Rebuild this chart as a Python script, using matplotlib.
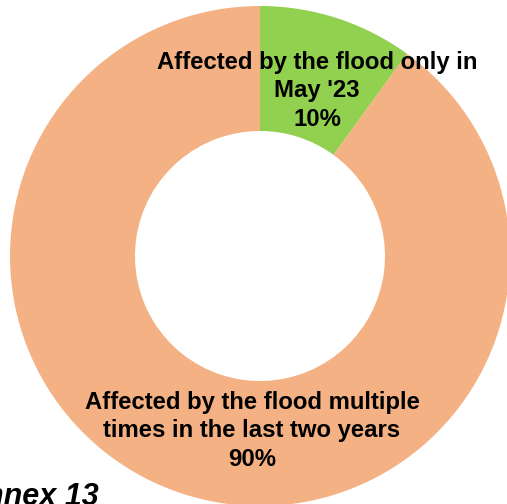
import matplotlib.pyplot as plt

labels = ["Affected by the flood only in\nMay '23",
          "Affected by the flood multiple\ntimes in the last two years"]
shares = [10, 90]
colors = ['#92D050', '#F4B183']

plt.rcParams['font.family'] = ['Liberation Sans', 'DejaVu Sans']

fig = plt.figure(figsize=(5.07, 5.04), dpi=100)
ax = fig.add_axes([0, 0, 1, 1])
wedges, _ = ax.pie(shares, colors=colors, startangle=90, counterclock=False,
                   radius=1, wedgeprops=dict(width=0.5, edgecolor='none'))
ax.set_xlim(-1.04, 0.988)
ax.set_ylim(-0.992, 1.024)
ax.set_aspect('auto')
ax.axis('off')

# label positions
pos = [(0.228, 0.66), (-0.032, -0.7)]
for lab, val, (x, y) in zip(labels, shares, pos):
    ax.text(x, y, f"{lab}\n{val}%", ha='center', va='center',
            fontsize=17.2, fontweight='bold', linespacing=1.3)

fig.text(99 / 507, -0.002, "Annex 13", ha='right', va='baseline',
         fontsize=22, fontweight='bold', fontstyle='italic')

fig.savefig('out.png', dpi=100)
